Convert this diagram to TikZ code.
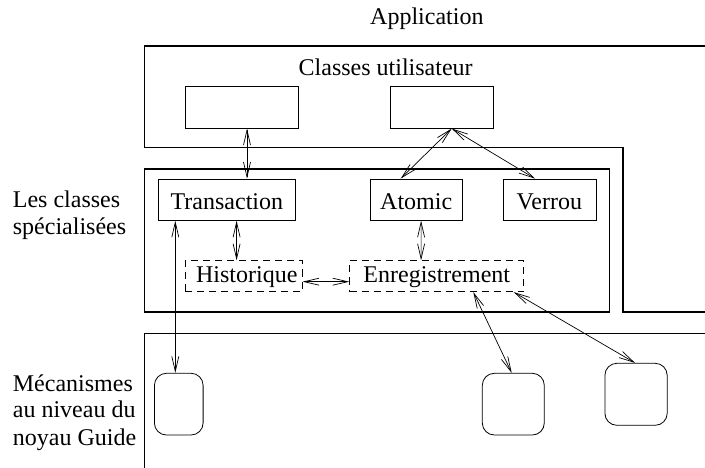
\documentclass[tikz,border=0pt]{standalone}
\usepackage{fontspec}
\setmainfont{Liberation Serif}
\usetikzlibrary{arrows.meta}
\tikzset{
  every node/.style={font=\fontsize{24}{27}\selectfont},
  outer/.style={line width=1.6pt},
  plainbox/.style={draw, line width=0.8pt, inner sep=0pt, minimum height=41.3pt, text height=22.7pt, text depth=2pt},
  dashbox/.style={draw, line width=0.8pt, dash pattern=on 7pt off 5pt, inner sep=0pt, minimum height=31pt, text height=16pt, text depth=3pt},
  mechbox/.style={draw, line width=0.8pt, rounded corners=12pt, inner sep=0pt},
  link/.style={line width=0.7pt, {Straight Barb[length=15pt,width=7pt]}-{Straight Barb[length=15pt,width=7pt]}},
  lbl/.style={anchor=base west, inner sep=0pt},
  ttl/.style={anchor=base west, inner sep=0pt}
}
\begin{document}
\begin{tikzpicture}[x=1pt,y=-1pt]
\useasboundingbox (0,0) rectangle (705,468);
% layer outlines
\draw[outer] (705,46) -- (144.3,46) -- (144.3,147.7) -- (622.9,147.7) -- (622.9,311.7) -- (705,311.7);
\draw[outer] (144.3,169) rectangle (609.5,311.7);
\draw[outer] (705,333.3) -- (144.3,333.3) -- (144.3,468);
% titles
\node[ttl] (app) at (370,25) {Application};
\node[ttl] (cu) at (298.5,76) {Classes utilisateur};
\node[lbl] (l1) at (12.7,207.7) {Les classes};
\node[lbl] (l2) at (12.7,235) {spécialisées};
\node[lbl] (l3) at (12.7,391) {Mécanismes};
\node[lbl] (l4) at (12.7,417.7) {au niveau du};
\node[lbl] (l5) at (12.7,445) {noyau Guide};
% user classes
\node[plainbox, minimum width=113.2pt] (u1) at (242,107.5) {};
\node[plainbox, minimum width=102.7pt] (u2) at (441.85,107.5) {};
% specialised classes
\node[plainbox, minimum width=137.7pt] (trans) at (226.85,199.65) {Transaction\hspace{8pt}};
\node[plainbox, minimum width=92.6pt] (atomic) at (416.2,199.65) {Atomic};
\node[plainbox, minimum width=93pt] (verrou) at (549.4,199.65) {Verrou};
\node[dashbox, minimum width=116.8pt] (hist) at (243.8,276.2) {\hspace{6pt}Historique};
\node[dashbox, minimum width=174.1pt] (enr) at (436.75,276.2) {Enregistrement\hspace{3pt}};
% kernel mechanisms
\node[mechbox, minimum width=48.7pt, minimum height=61.7pt] (m1) at (178.75,404.15) {};
\node[mechbox, minimum width=62pt, minimum height=61.7pt] (m2) at (513.3,404.15) {};
\node[mechbox, minimum width=62.3pt, minimum height=62pt] (m3) at (636.05,394.3) {};
% connectors
\draw[link] ([xshift=5pt]u1.south) -- ([xshift=20.15pt]trans.north);
\draw[link] ([xshift=9.85pt]u2.south) -- ([xshift=-15.5pt]atomic.north);
\draw[link] ([xshift=9.85pt]u2.south) -- ([xshift=-14.4pt]verrou.north);
\draw[link] ([xshift=9.75pt]trans.south) -- ([xshift=-7.2pt]hist.north);
\draw[link] ([xshift=4.9pt]atomic.south) -- ([xshift=-15.65pt]enr.north);
\draw[link] ([yshift=-5.5pt]hist.east) -- ([yshift=-5.5pt]enr.west);
\draw[link] ([xshift=-51.55pt]trans.south) -- ([xshift=-3.45pt]m1.north);
\draw[link] ([xshift=36.55pt]enr.south) -- ([xshift=-1.6pt]m2.north);
\draw[link] ([xshift=-10.5pt]enr.south east) -- ([xshift=-1pt]m3.north);
\end{tikzpicture}
\end{document}
